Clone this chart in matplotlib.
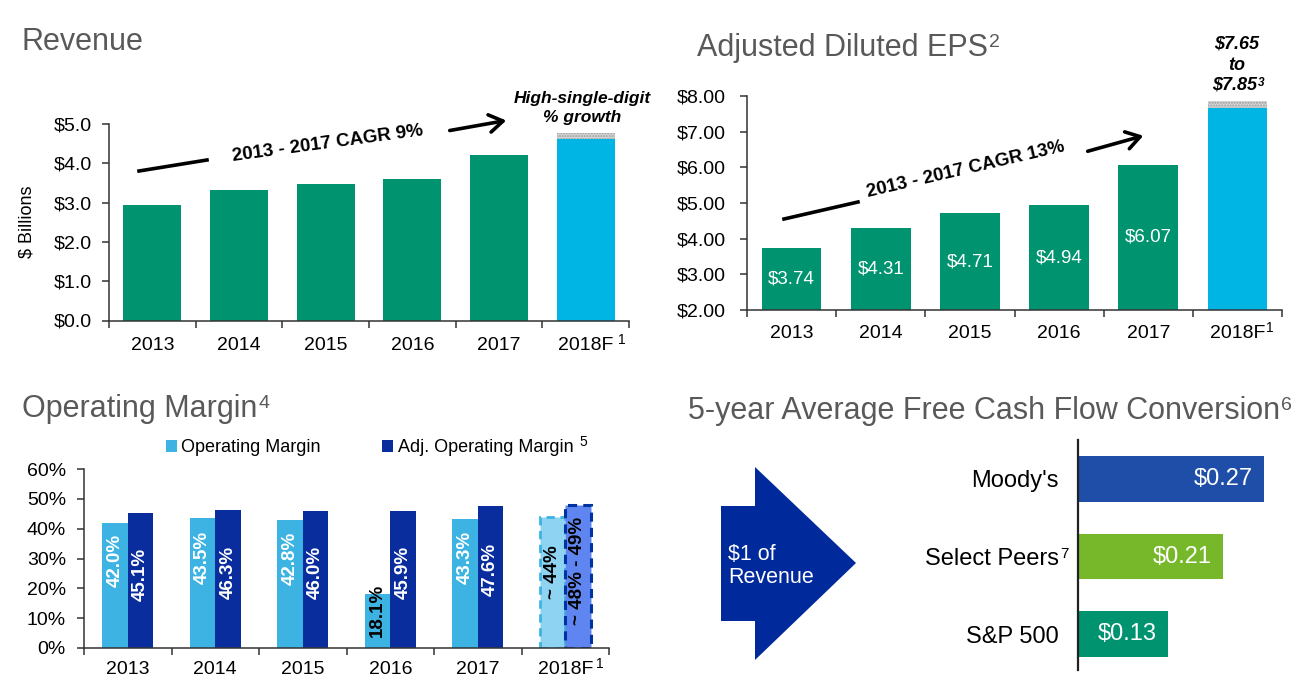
import matplotlib
matplotlib.use('Agg')
import matplotlib.pyplot as plt
import numpy as np
from matplotlib.patches import Polygon, FancyArrowPatch
from matplotlib.lines import Line2D

plt.rcParams['font.family'] = ['Liberation Sans', 'DejaVu Sans']
plt.rcParams['hatch.linewidth'] = 1.0

# ---------------- data ----------------
years = ['2013', '2014', '2015', '2016', '2017', '2018F']
revenue = [2.95, 3.33, 3.48, 3.60, 4.20]
revenue_2018_low = 4.62
revenue_2018_high = 4.77
eps = [3.74, 4.31, 4.71, 4.94, 6.07]
eps_2018_low = 7.65
eps_2018_high = 7.85
op_margin = [42.0, 43.5, 42.8, 18.1, 43.3]
adj_op_margin = [45.1, 46.3, 46.0, 45.9, 47.6]
op_margin_2018 = 44.0
adj_op_margin_2018 = 48.0
op_margin_2018_label = '~ 44%'
adj_op_margin_2018_label = '~ 48% - 49%'
fcf_names = ["Moody's", 'Select Peers', 'S&P 500']
fcf_values = [0.27, 0.21, 0.13]

# ---------------- colours ----------------
GREEN = '#00936F'
CYAN = '#00B4E4'
LIGHT = '#3DB3E3'
DARK = '#0A2D9E'
TITLE = '#595959'

W, H = 1309, 686
fig = plt.figure(figsize=(W / 100, H / 100), dpi=100)


def fx(x):
    return x / W


def fy(y):
    return 1 - y / H


def add_ax(l, t, r, b):
    return fig.add_axes([l / W, 1 - b / H, (r - l) / W, (b - t) / H])


def style_col(ax, ypad, xpad):
    for s in ['top', 'right']:
        ax.spines[s].set_visible(False)
    for s in ['left', 'bottom']:
        ax.spines[s].set_color('#333333')
        ax.spines[s].set_linewidth(1.1)
    ax.set_xlim(-0.5, 5.5)
    ax.set_xticks(range(len(years)))
    ax.set_xticklabels(years)
    ax.set_xticks(np.arange(-0.5, len(years)), minor=True)
    ax.tick_params(axis='x', which='major', length=0, pad=xpad, labelsize=14)
    ax.tick_params(axis='x', which='minor', length=5, width=1.1, color='#333333')
    ax.tick_params(axis='y', length=5, width=1.1, color='#333333', pad=ypad, labelsize=14)


x = np.arange(len(revenue))

# ---------------- Revenue ----------------
ax1 = add_ax(109, 124, 629, 320.5)
ax1.bar(x, revenue, width=0.67, color=GREEN)
ax1.bar(5, revenue_2018_low, width=0.67, color=CYAN)
ax1.bar(5, revenue_2018_high - revenue_2018_low, bottom=revenue_2018_low, width=0.67,
        color='#d6d6d6', hatch='......', edgecolor='#9c9c9c', linewidth=0)
ax1.set_ylim(0, 5)
ax1.set_yticks(np.arange(0, 5.01, 1))
ax1.set_yticklabels([f'${v:.1f}' for v in np.arange(0, 5.01, 1)])
style_col(ax1, ypad=7, xpad=12)

# ---------------- EPS ----------------
ax2 = add_ax(747, 96, 1282, 310)
ax2.bar(x, eps, width=0.67, color=GREEN)
ax2.bar(5, eps_2018_low, width=0.67, color=CYAN)
ax2.bar(5, eps_2018_high - eps_2018_low, bottom=eps_2018_low, width=0.67,
        color='#d6d6d6', hatch='......', edgecolor='#9c9c9c', linewidth=0)
ax2.set_ylim(2, 8)
ax2.set_yticks(np.arange(2, 8.01, 1))
ax2.set_yticklabels([f'${v:.2f}' for v in np.arange(2, 8.01, 1)])
style_col(ax2, ypad=10, xpad=11)
for xi, v in zip(x, eps):
    ax2.text(xi, (2 + v) / 2, f'${v:.2f}', ha='center', va='center', color='white', fontsize=13.5)

# ---------------- Operating margin ----------------
ax3 = add_ax(84, 469, 609, 648)
bw = 0.29
b_light = ax3.bar(x - bw / 2, op_margin, width=bw, color=LIGHT, label='Operating Margin')
b_dark = ax3.bar(x + bw / 2, adj_op_margin, width=bw, color=DARK, label='Adj. Operating Margin')
ax3.bar(5 - bw / 2, op_margin_2018, width=bw, facecolor='#8ED4F2', edgecolor=LIGHT,
        linestyle=(0, (3, 2)), linewidth=2)
ax3.bar(5 + bw / 2, adj_op_margin_2018, width=bw, facecolor='#5F86F0', edgecolor='#0033A0',
        linestyle=(0, (3, 2)), linewidth=2.2)
ax3.set_ylim(0, 60)
ax3.set_yticks(np.arange(0, 61, 10))
ax3.set_yticklabels([f'{v}%' for v in range(0, 61, 10)])
style_col(ax3, ypad=8, xpad=9)
for xi, v in zip(x, op_margin):
    ax3.text(xi - bw / 2, 0.7 * v, f'{v:.1f}%', rotation=90, ha='center', va='center',
             color='white' if v > 25 else 'black', fontsize=13.5, fontweight='bold')
for xi, v in zip(x, adj_op_margin):
    ax3.text(xi + bw / 2, 0.55 * v, f'{v:.1f}%', rotation=90, ha='center', va='center',
             color='white', fontsize=13.5, fontweight='bold')
ax3.text(5 - bw / 2, 0.58 * op_margin_2018, op_margin_2018_label, rotation=90, ha='center',
         va='center', color='black', fontsize=13.5, fontweight='bold')
ax3.text(5 + bw / 2, 0.54 * adj_op_margin_2018, adj_op_margin_2018_label, rotation=90, ha='center',
         va='center', color='black', fontsize=13.5, fontweight='bold')
leg = ax3.legend(handles=[b_light, b_dark], loc='center left',
                 bbox_to_anchor=(fx(166), fy(448)), bbox_transform=fig.transFigure,
                 ncol=2, frameon=False, fontsize=13, handlelength=0.6, handleheight=0.6,
                 handletextpad=0.25, columnspacing=3.4, borderpad=0, borderaxespad=0)

# ---------------- FCF conversion ----------------
ax4 = add_ax(1078, 440, 1300, 670)
yy = np.arange(len(fcf_values))
ax4.barh(yy, fcf_values, height=0.59, color=['#1F4EA8', '#76B82A', GREEN])
ax4.set_xlim(0, 0.322)
ax4.set_ylim(2.46, -0.5)
for s in ['top', 'right', 'bottom']:
    ax4.spines[s].set_visible(False)
ax4.spines['left'].set_linewidth(1.6)
ax4.spines['left'].set_color('#222222')
ax4.set_xticks([])
ax4.set_yticks(yy)
ax4.set_yticklabels(fcf_names)
ax4.tick_params(axis='y', length=0, pad=14, labelsize=17)
for yi, v in zip(yy, fcf_values):
    ax4.text(v - 0.016, yi, f'${v:.2f}', ha='right', va='center', color='white', fontsize=17)

# arrow shape "$1 of Revenue"
arrow_px = [(721, 506), (755, 506), (755, 467), (856, 563), (755, 660), (755, 621), (721, 621)]
fig.add_artist(Polygon([(fx(a), fy(b)) for a, b in arrow_px], closed=True,
                       transform=fig.transFigure, facecolor='#00299C', edgecolor='none'))
fig.text(fx(728), fy(566), '$1 of\nRevenue', ha='left', va='center', color='white',
         fontsize=15.5, linespacing=1.15)

# ---------------- titles ----------------
t_rev = fig.text(fx(22), fy(42), 'Revenue', fontsize=22, color=TITLE, ha='left', va='center')
t_eps = fig.text(fx(697), fy(48), 'Adjusted Diluted EPS', fontsize=22, color=TITLE, ha='left', va='center')
t_om = fig.text(fx(22), fy(409), 'Operating Margin', fontsize=22, color=TITLE, ha='left', va='center')
t_fcf = fig.text(fx(688), fy(411), '5-year Average Free Cash Flow Conversion', fontsize=22,
                 color=TITLE, ha='left', va='center')
fig.text(fx(27), fy(222), '$ Billions', rotation=90, ha='center', va='center', fontsize=13)

# annotations
fig.text(fx(582), fy(108), 'High-single-digit\n% growth', ha='center', va='center',
         fontsize=12.5, fontweight='bold', fontstyle='italic', linespacing=1.3)
bi = dict(ha='center', va='center', fontsize=13, fontweight='bold', fontstyle='italic')
fig.text(fx(1237), fy(44), '$7.65', **bi)
fig.text(fx(1237), fy(65), 'to', **bi)
t_785 = fig.text(fx(1235), fy(85), '$7.85', **bi)

fig.add_artist(Line2D([fx(139), fx(207)], [fy(171), fy(160)], transform=fig.transFigure,
                      color='black', lw=2.6))
fig.add_artist(FancyArrowPatch((fx(447), fy(131)), (fx(509), fy(120)), transform=fig.transFigure,
                               arrowstyle='->,head_length=0.7,head_width=0.45', mutation_scale=14,
                               color='black', lw=2.6))
fig.text(fx(328), fy(144), '2013 - 2017 CAGR 9%', rotation=7.7, ha='center', va='center',
         fontsize=13.5, fontweight='bold', rotation_mode='anchor')

fig.add_artist(Line2D([fx(784), fx(858)], [fy(219), fy(202)], transform=fig.transFigure,
                      color='black', lw=2.6))
fig.add_artist(FancyArrowPatch((fx(1085), fy(152)), (fx(1146), fy(135)), transform=fig.transFigure,
                               arrowstyle='->,head_length=0.7,head_width=0.45', mutation_scale=14,
                               color='black', lw=2.6))
fig.text(fx(966), fy(170), '2013 - 2017 CAGR 13%', rotation=13.1, ha='center', va='center',
         fontsize=13.5, fontweight='bold', rotation_mode='anchor')

# ---------------- superscripts ----------------
fig.canvas.draw()
renderer = fig.canvas.get_renderer()


def sup_after(t, s, size, dx=2, dy=0, **kw):
    bb = t.get_window_extent(renderer)
    fig.text((bb.x1 + dx) / W, (bb.y1 - dy) / H, s, ha='left', va='top', fontsize=size, **kw)


sup_after(t_eps, '2', 14, dx=1, dy=1, color=TITLE)
sup_after(t_om, '4', 14, dx=1, dy=1, color=TITLE)
sup_after(t_fcf, '6', 14, dx=1, dy=1, color=TITLE)
sup_after(ax1.get_xticklabels()[5], '1', 10, dx=5, dy=-4)
sup_after(ax2.get_xticklabels()[5], '1', 10, dx=1, dy=-4)
sup_after(ax3.get_xticklabels()[5], '1', 10, dx=3, dy=-4)
sup_after(ax4.get_yticklabels()[1], '7', 11, dx=2, dy=-1)
sup_after(leg.get_texts()[1], '5', 10, dx=6, dy=-5)
sup_after(t_785, '3', 8.5, dx=0, dy=1, fontweight='bold', fontstyle='italic')

fig.savefig('out.png', dpi=100)
